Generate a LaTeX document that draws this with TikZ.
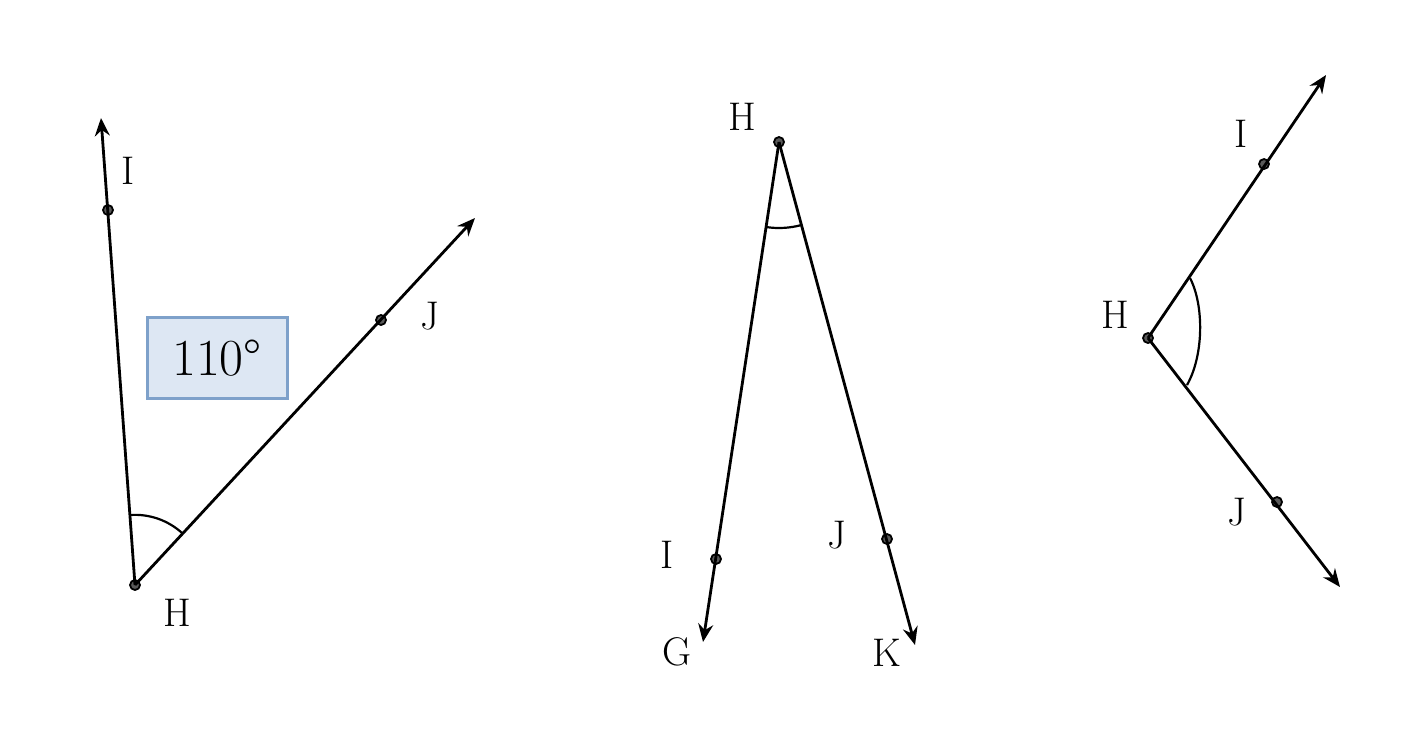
\documentclass[tikz,border=0pt]{standalone}
\usetikzlibrary{arrows.meta}
\definecolor{boxfill}{RGB}{221,231,243}
\definecolor{boxline}{RGB}{126,161,202}
\begin{document}
\begin{tikzpicture}[x=0.5pt,y=-0.5pt,
  ray/.style={line width=1.4pt,-{Stealth[length=9pt,width=7.5pt,inset=3pt]}},
  pt/.style={circle,draw=black,fill=black!65,line width=0.9pt,inner sep=0pt,minimum size=5pt},
  lab/.style={font=\fontsize{20}{22}\selectfont,inner sep=0pt},
  anglearc/.style={line width=1.1pt}]
\useasboundingbox (0,0) rectangle (1414,736);
% ---------- left figure ----------
\coordinate (LI0) at (101,118);
\coordinate (LJ0) at (475,218);
\node[pt] (LH) at (135,585) {};
\node[pt] (LI) at (108,210) {};
\node[pt] (LJ) at (381,320) {};
\draw[ray] (LH.center) -- (LI0);
\draw[ray] (LH.center) -- (LJ0);
\draw[anglearc] (130,515) arc[start angle=-94.1,end angle=-47.2,radius=70];
\node[lab] (LlI) at (128,171) {I};
\node[lab] (LlJ) at (430,316) {J};
\node[lab] (LlH) at (177,613) {H};
\node[draw=boxline,fill=boxfill,line width=1.5pt,minimum width=70pt,minimum height=40.5pt,
      font=\fontsize{26}{28}\selectfont] (box) at (217,358) {110\textdegree};
% ---------- middle figure ----------
\coordinate (MG) at (703,642);
\coordinate (MK) at (915,645);
\node[pt] (MH) at (779,142) {};
\node[pt] (MI) at (716,559) {};
\node[pt] (MJ) at (887,539) {};
\draw[ray] (MH.center) -- (MG);
\draw[ray] (MH.center) -- (MK);
\draw[anglearc] (766,227) arc[start angle=98.7,end angle=74.9,radius=86];
\node[lab] (MlH) at (742,117) {H};
\node[lab] (MlI) at (667,555) {I};
\node[lab] (MlG) at (677,652) {G};
\node[lab] (MlJ) at (837,535) {J};
\node[lab] (MlK) at (887,653) {K};
% ---------- right figure ----------
\coordinate (RI0) at (1326,75);
\coordinate (RJ0) at (1340,587);
\node[pt] (RH) at (1148,338) {};
\node[pt] (RI) at (1264,164) {};
\node[pt] (RJ) at (1277,502) {};
\draw[ray] (RH.center) -- (RI0);
\draw[ray] (RH.center) -- (RJ0);
\draw[anglearc] (1190,278) .. controls (1204,305) and (1204,355) .. (1187,385);
\node[lab] (RlH) at (1115,315) {H};
\node[lab] (RlI) at (1241,134) {I};
\node[lab] (RlJ) at (1237,512) {J};
\end{tikzpicture}
\end{document}
